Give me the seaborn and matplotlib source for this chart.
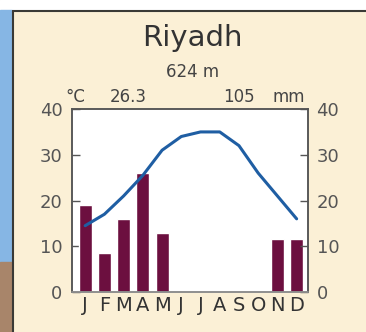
import numpy as np
import pandas as pd
import seaborn as sns
import matplotlib.pyplot as plt
from matplotlib.patches import Rectangle

sns.set_style("white")
plt.rcParams['font.family'] = ['DejaVu Sans']

# Riyadh climate data
months = ["J", "F", "M", "A", "M", "J", "J", "A", "S", "O", "N", "D"]
temp_c = [14.5, 17, 21, 25.5, 31, 34, 35, 35, 32, 26, 21, 16]
precip_mm = [19, 8.5, 16, 26, 13, 0, 0, 0, 0, 0, 11.5, 11.5]
yticks = [0, 10, 20, 30, 40]

df = pd.DataFrame({"month": np.arange(12), "temp": temp_c, "precip": precip_mm})

bg = "#fbf0d6"
fig = plt.figure(figsize=(3.66, 3.32), dpi=100, facecolor=bg)

# decoration: map strip on the left, white top margin, panel border
fig.add_artist(Rectangle((0, 0.97), 1, 0.03, transform=fig.transFigure, color="white", zorder=0))
fig.add_artist(Rectangle((0, 0.21), 0.032, 0.76, transform=fig.transFigure, color="#86b6e4", zorder=0))
fig.add_artist(Rectangle((0, 0), 0.032, 0.21, transform=fig.transFigure, color="#a8856a", zorder=0))
fig.add_artist(plt.Line2D([0.035, 0.035], [0, 0.967], transform=fig.transFigure, color="#3a3a36", lw=1.5))
fig.add_artist(plt.Line2D([0.035, 1], [0.967, 0.967], transform=fig.transFigure, color="#3a3a36", lw=1.5))

ax = fig.add_axes([0.197, 0.1205, 0.645, 0.551])
ax.set_facecolor("white")

sns.barplot(data=df, x="month", y="precip", native_scale=True, width=0.68,
            color="#6c0f3f", saturation=1, ax=ax, zorder=2)
sns.lineplot(data=df, x="month", y="temp", color="#1f5ea3", lw=2.2, ax=ax, zorder=3)

ax.set_xlim(-0.68, 11.6)
ax.set_ylim(0, 40)
ax.set_xticks(np.arange(12))
ax.set_xticklabels(months, fontsize=14, color="#333333")
ax.set_yticks(yticks)
ax.set_yticklabels([str(v) for v in yticks], fontsize=13, color="#555555")
ax.tick_params(axis="y", direction="in", length=6, width=1, color="#555555", pad=7)
ax.tick_params(axis="x", length=0, pad=3)
ax.set_xlabel("")
ax.set_ylabel("")

ax2 = ax.twinx()
ax2.set_ylim(0, 40)
ax2.set_yticks(yticks)
ax2.set_yticklabels([str(v) for v in yticks], fontsize=13, color="#555555")
ax2.tick_params(axis="y", direction="in", length=6, width=1, color="#555555", pad=6)

for a in (ax, ax2):
    for s in a.spines.values():
        s.set_visible(True)
        s.set_color("#555555")
        s.set_linewidth(1.1)
ax2.spines["bottom"].set_color("#999999")

fig.text(0.525, 0.885, "Riyadh", ha="center", va="center", fontsize=21, color="#333333")
fig.text(0.525, 0.783, "624 m", ha="center", va="center", fontsize=12, color="#444444")
fig.text(0.207, 0.708, "°C", ha="center", va="center", fontsize=12, color="#444444")
fig.text(0.35, 0.708, "26.3", ha="center", va="center", fontsize=12, color="#444444")
fig.text(0.653, 0.708, "105", ha="center", va="center", fontsize=12, color="#444444")
fig.text(0.79, 0.708, "mm", ha="center", va="center", fontsize=12, color="#444444")

fig.savefig("out.png", dpi=100, facecolor=bg)
